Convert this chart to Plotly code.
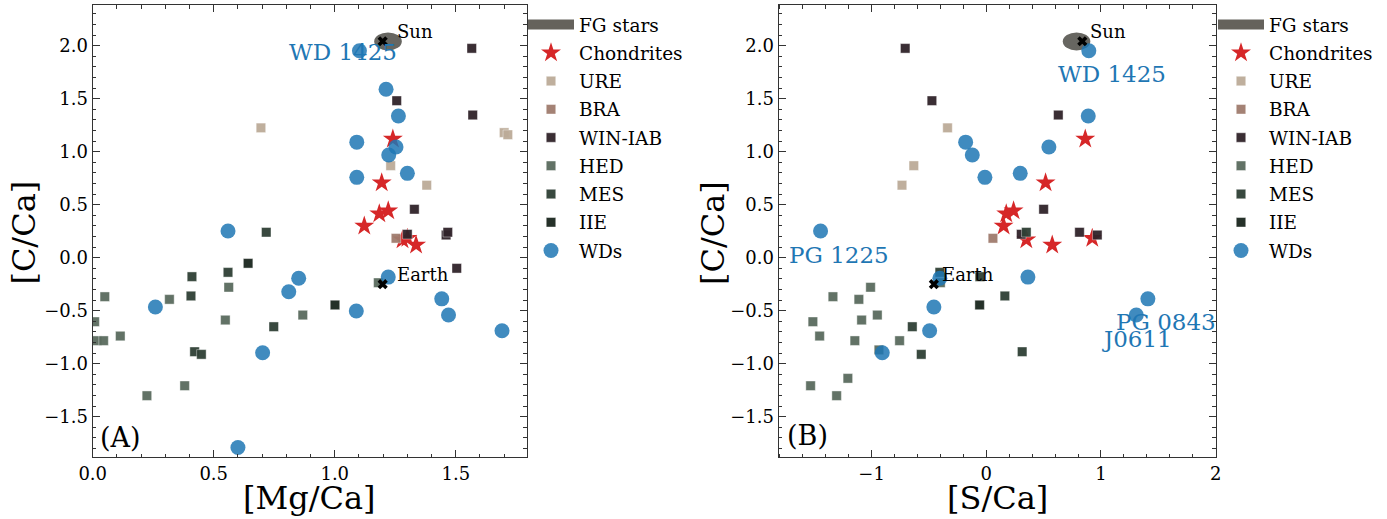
import plotly.graph_objects as go

# ---------------- data ----------------
# FG stars (centre and half-widths of the shaded ellipse)
fg_c, fg_c_err = 2.04, 0.085
fg_mg, fg_mg_err = 1.22, 0.057
fg_s, fg_s_err = 0.787, 0.12

# Chondrites
chon_c = [1.12, 0.707, 0.415, 0.443, 0.299, 0.17, 0.12, 0.183]
chon_mg = [1.24, 1.194, 1.184, 1.221, 1.122, 1.28, 1.336, 1.30]
chon_s = [0.863, 0.517, 0.174, 0.238, 0.151, 0.349, 0.575, 0.924]

# URE
ure_c = [1.225, 0.868, 0.684, 1.18, 1.16]
ure_mg = [0.695, 1.231, 1.38, 1.70, 1.715]
ure_s = [-0.338, -0.632, -0.735, None, None]

# BRA
bra_c = [0.183]
bra_mg = [1.253]
bra_s = [0.058]

# WIN-IAB
win_c = [1.975, 1.481, 1.346, 0.457, 0.221, 0.214, 0.24, -0.10]
win_mg = [1.566, 1.256, 1.57, 1.329, 1.30, 1.46, 1.467, 1.504]
win_s = [-0.707, -0.474, 0.628, 0.50, 0.305, 0.968, 0.813, None]

# HED
hed_c = [-0.604, -0.739, -0.368, -0.393, -0.279, -0.588, -0.541, -0.783,
         -0.783, -1.208, -1.302, -1.138, -0.236, -0.87]
hed_mg = [0.008, 0.114, 0.05, 0.317, 0.562, 0.548, 0.868, 0.018,
          0.045, 0.38, 0.224, None, 1.18, None]
hed_s = [-1.512, -1.453, -1.337, -1.111, -1.009, -1.087, -0.95, -1.146,
         -0.756, -1.532, -1.305, -1.207, -0.40, -0.936]

# MES
mes_c = [0.24, -0.138, -0.179, -0.361, -0.887, -0.912, -0.651]
mes_mg = [0.717, 0.559, 0.41, 0.406, 0.421, 0.449, 0.748]
mes_s = [0.349, -0.405, -0.056, 0.162, 0.313, -0.567, -0.645]

# IIE
iie_c = [-0.446, -0.053]
iie_mg = [1.001, 0.642]
iie_s = [-0.058, None]

# White dwarfs
wd_c = [1.952, 1.589, 1.337, 1.09, 1.045, 0.969, 0.758, 0.796, 0.252,
        -0.465, -0.194, -0.321, -0.896, -1.79, -0.183, -0.388, -0.503,
        -0.54, -0.689]
wd_mg = [1.102, 1.212, 1.263, 1.091, 1.253, 1.223, 1.091, 1.30, 0.559,
         0.259, 0.851, 0.81, 0.702, 0.60, 1.221, 1.442, 1.089, 1.47, 1.691]
wd_s = [0.894, None, 0.889, -0.18, 0.546, -0.122, -0.012, 0.296, -1.445,
        -0.457, -0.405, None, -0.907, None, 0.363, 1.409, None, 1.308,
        -0.494]

# Sun and Earth
ref_names = ["Sun", "Earth"]
ref_c = [2.042, -0.25]
ref_mg = [1.198, 1.198]
ref_s = [0.837, -0.457]

# ---------------- styling / layout ----------------
W, H = 1387, 519
FONT = "DejaVu Serif"
BLUE = "#1f77b4"

# label positions (panel, x, y) for WD names
wd_label_pos = {
    ("A", "WD 1425"): (0.803, 1.936),
    ("B", "WD 1425"): (0.608, 1.733),
    ("B", "PG 1225"): (-1.738, 0.025),
    ("B", "PG 0843"): (1.115, -0.611),
    ("B", "J0611"): (0.989, -0.767),
}

groups = [
    ("URE", ure_c, ure_mg, ure_s, "rgb(188,171,152)"),
    ("BRA", bra_c, bra_mg, bra_s, "rgb(160,124,110)"),
    ("WIN-IAB", win_c, win_mg, win_s, "rgb(48,35,42)"),
    ("HED", hed_c, hed_mg, hed_s, "rgb(90,107,94)"),
    ("MES", mes_c, mes_mg, mes_s, "rgb(47,64,53)"),
    ("IIE", iie_c, iie_mg, iie_s, "rgb(26,38,30)"),
]

fig = go.Figure()

panels = [
    ("x", "y", "legend", chon_mg, wd_mg, ref_mg, 1),
    ("x2", "y2", "legend2", chon_s, wd_s, ref_s, 2),
]

for xa, ya, leg, chx, wdx, refx, k in panels:
    # FG stars legend entry (ellipse drawn as a shape below)
    fig.add_trace(go.Scatter(
        x=[None], y=[None], mode="lines", name="FG stars",
        legendgroup="FG stars",
        line=dict(color="rgba(88,85,78,0.92)", width=13),
        xaxis=xa, yaxis=ya, legend=leg, hoverinfo="skip"))
    fig.add_trace(go.Scatter(
        x=chx, y=chon_c, mode="markers", name="Chondrites",
        legendgroup="Chondrites",
        marker=dict(symbol="star", size=15, color="rgb(214,39,40)",
                    line=dict(width=0)),
        xaxis=xa, yaxis=ya, legend=leg))
    for name, gc, gmg, gs, col in groups:
        gx = gmg if k == 1 else gs
        fig.add_trace(go.Scatter(
            x=gx, y=gc, mode="markers", name=name, legendgroup=name,
            marker=dict(symbol="square", size=9.5, color=col, opacity=0.95,
                        line=dict(width=0.6, color="rgba(255,255,255,0.7)")),
            xaxis=xa, yaxis=ya, legend=leg))
    fig.add_trace(go.Scatter(
        x=wdx, y=wd_c, mode="markers", name="WDs", legendgroup="WDs",
        marker=dict(symbol="circle", size=15, color=BLUE, opacity=0.85,
                    line=dict(width=0)),
        xaxis=xa, yaxis=ya, legend=leg))
    fig.add_trace(go.Scatter(
        x=refx, y=ref_c, mode="markers", showlegend=False,
        marker=dict(symbol="x", size=9, color="black", line=dict(width=0)),
        xaxis=xa, yaxis=ya))
    for nm, rx, ry in zip(ref_names, refx, ref_c):
        fig.add_annotation(x=rx + 0.05, y=ry, xref=xa, yref=ya, text=nm,
                           showarrow=False, xanchor="left", yanchor="middle",
                           yshift=10, font=dict(family=FONT, size=18,
                                                color="black"))

# FG ellipses
fig.add_shape(type="circle", xref="x", yref="y", layer="below",
              x0=fg_mg - fg_mg_err, x1=fg_mg + fg_mg_err,
              y0=fg_c - fg_c_err, y1=fg_c + fg_c_err,
              fillcolor="rgba(70,68,62,0.82)", line=dict(width=0))
fig.add_shape(type="circle", xref="x2", yref="y2", layer="below",
              x0=fg_s - fg_s_err, x1=fg_s + fg_s_err,
              y0=fg_c - fg_c_err, y1=fg_c + fg_c_err,
              fillcolor="rgba(70,68,62,0.82)", line=dict(width=0))

# WD labels
for (panel, nm), (lx, ly) in wd_label_pos.items():
    xr, yr = ("x", "y") if panel == "A" else ("x2", "y2")
    fig.add_annotation(x=lx, y=ly, xref=xr, yref=yr, text=nm,
                       showarrow=False, xanchor="left", yanchor="middle",
                       font=dict(family=FONT, size=23, color=BLUE))

# panel letters
fig.add_annotation(x=0.012, y=0.043, xref="x domain", yref="y domain",
                   text="(A)", showarrow=False, xanchor="left",
                   yanchor="middle", font=dict(family=FONT, size=27,
                                               color="black"))
fig.add_annotation(x=0.015, y=0.049, xref="x2 domain", yref="y2 domain",
                   text="(B)", showarrow=False, xanchor="left",
                   yanchor="middle", font=dict(family=FONT, size=27,
                                               color="black"))

# axis titles
TF = dict(family=FONT, size=32, color="black")
fig.add_annotation(x=309.7 / W, y=(H - 497.5) / H, xref="paper",
                   yref="paper", text="[Mg/Ca]", showarrow=False, font=TF,
                   xanchor="center", yanchor="middle", borderpad=0)
fig.add_annotation(x=997.3 / W, y=(H - 497.5) / H, xref="paper",
                   yref="paper", text="[S/Ca]", showarrow=False, font=TF,
                   xanchor="center", yanchor="middle", borderpad=0)
fig.add_annotation(x=23.6 / W, y=(H - 233) / H, xref="paper", yref="paper",
                   text="[C/Ca]", showarrow=False, font=TF, textangle=-90,
                   xanchor="center", yanchor="middle", borderpad=0)
fig.add_annotation(x=713 / W, y=(H - 233) / H, xref="paper", yref="paper",
                   text="[C/Ca]", showarrow=False, font=TF, textangle=-90,
                   xanchor="center", yanchor="middle", borderpad=0)

ydom = [(H - 457.3) / H, (H - 5) / H]
axis_common = dict(showline=True, linecolor="#333", linewidth=1.3,
                   mirror="allticks", ticks="inside", ticklen=7,
                   tickwidth=1, tickcolor="#333", showgrid=False,
                   zeroline=False, automargin=False,
                   tickfont=dict(family=FONT, size=18, color="black"))

fig.update_layout(
    width=W, height=H,
    margin=dict(l=0, r=0, t=0, b=0),
    paper_bgcolor="white", plot_bgcolor="white",
    xaxis=dict(domain=[92.7 / W, 526.7 / W], range=[0, 1.793],
               dtick=0.5, tick0=0, tickformat=".1f", anchor="y",
               minor=dict(ticks="inside", ticklen=3.5, dtick=0.1,
                          tickcolor="#333", showgrid=False),
               **axis_common),
    yaxis=dict(domain=ydom, range=[-1.883, 2.384], dtick=0.5, tick0=0,
               tickformat=".1f", anchor="x",
               minor=dict(ticks="inside", ticklen=3.5, dtick=0.1,
                          tickcolor="#333", showgrid=False),
               **axis_common),
    xaxis2=dict(domain=[778.7 / W, 1216 / W], range=[-1.81, 2.003],
                dtick=1, tick0=0, anchor="y2",
                minor=dict(ticks="inside", ticklen=3.5, dtick=0.2,
                           tickcolor="#333", showgrid=False),
                **axis_common),
    yaxis2=dict(domain=ydom, range=[-1.883, 2.384], dtick=0.5, tick0=0,
                tickformat=".1f", anchor="x2",
                minor=dict(ticks="inside", ticklen=3.5, dtick=0.1,
                           tickcolor="#333", showgrid=False),
                **axis_common),
    legend=dict(x=523 / W, y=1 - 6 / H, xanchor="left", yanchor="top",
                font=dict(family=FONT, size=18.5, color="black"),
                bgcolor="rgba(0,0,0,0)", itemwidth=46, tracegroupgap=1.2),
    legend2=dict(x=1213 / W, y=1 - 6 / H, xanchor="left", yanchor="top",
                 font=dict(family=FONT, size=18.5, color="black"),
                 bgcolor="rgba(0,0,0,0)", itemwidth=46, tracegroupgap=1.2),
    showlegend=True,
)

fig.write_html("out.html")
